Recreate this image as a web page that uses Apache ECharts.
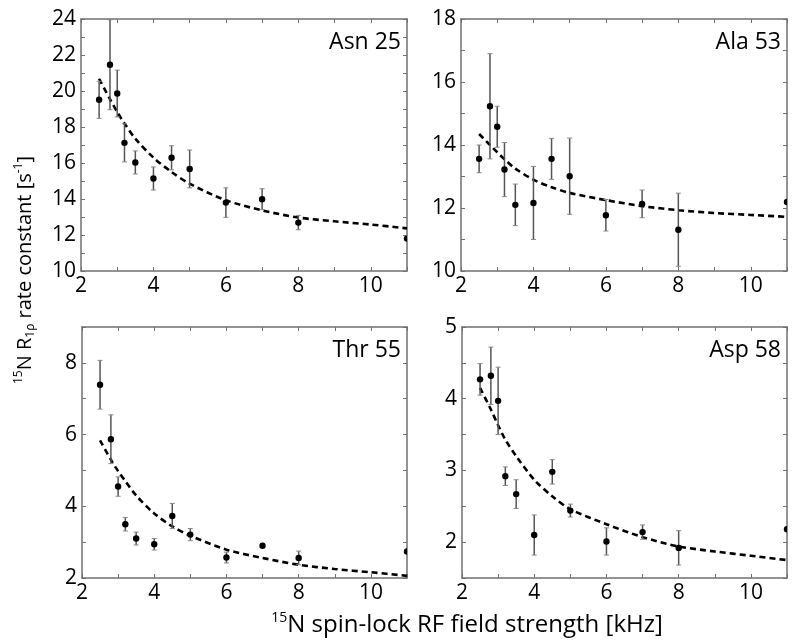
<!DOCTYPE html>
<html>
<head>
<meta charset="utf-8">
<script src="https://cdn.jsdelivr.net/npm/echarts@6/dist/echarts.min.js"></script>
<style>
html,body{margin:0;padding:0;background:#fff;}
#chart{width:800px;height:641px;}
</style>
</head>
<body>
<div id="chart"></div>
<script>
// ---- data ----
const fieldKHz = [2.5, 2.8, 3.0, 3.2, 3.5, 4.0, 4.5, 5.0, 6.0, 7.0, 8.0, 11.0];

const asn25R = [19.51, 21.46, 19.86, 17.12, 16.03, 15.14, 16.29, 15.67, 13.80, 13.99, 12.69, 11.80];
const asn25Err = [1.03, 2.5, 1.3, 1.06, 0.64, 0.64, 0.67, 1.05, 0.82, 0.58, 0.40, 0];

const ala53R = [13.56, 15.23, 14.58, 13.22, 12.10, 12.16, 13.56, 13.01, 11.77, 12.13, 11.31, 12.19];
const ala53Err = [0.44, 1.67, 0.65, 0.86, 0.66, 1.16, 0.65, 1.21, 0.50, 0.44, 1.16, 0];

const thr55R = [7.39, 5.87, 4.55, 3.50, 3.10, 2.94, 3.73, 3.21, 2.57, 2.90, 2.56, 2.74];
const thr55Err = [0.68, 0.68, 0.27, 0.19, 0.18, 0.16, 0.35, 0.17, 0.15, 0, 0.19, 0];

const asp58R = [4.27, 4.32, 3.97, 2.92, 2.67, 2.10, 2.98, 2.44, 2.01, 2.14, 1.92, 2.18];
const asp58Err = [0.22, 0.40, 0.47, 0.13, 0.20, 0.28, 0.17, 0.09, 0.19, 0.10, 0.24, 0];

// fitted curves
const fitX = [2.5, 2.8, 3.0, 3.2, 3.5, 4.0, 4.5, 5.0, 6.0, 7.0, 8.0, 9.0, 10.0, 11.0];
const asn25Fit = [20.68, 19.55, 18.83, 18.20, 17.35, 16.30, 15.50, 14.85, 13.93, 13.37, 12.97, 12.76, 12.58, 12.37];
const ala53Fit = [14.35, 14.00, 13.77, 13.55, 13.25, 12.90, 12.66, 12.48, 12.25, 12.06, 11.93, 11.84, 11.78, 11.72];
const thr55Fit = [5.84, 5.30, 4.98, 4.70, 4.30, 3.80, 3.44, 3.18, 2.79, 2.56, 2.37, 2.25, 2.16, 2.06];
const asp58Fit = [4.15, 3.85, 3.63, 3.43, 3.20, 2.87, 2.64, 2.46, 2.25, 2.07, 1.94, 1.87, 1.81, 1.75];

const panelNames = ['Asn 25', 'Ala 53', 'Thr 55', 'Asp 58'];
const yMin = [10, 10, 2, 1.5];
const yMax = [24, 18, 9, 5];
const yStep = [1, 1, 1, 0.5];
const xMin = 2, xMax = 11, xStep = 1;

const xTitle = '15N spin-lock RF field strength [kHz]';
const yTitle = '15N R1\u03c1 rate constant [s-1]';

// ---- build ----
const FONT = '"Open Sans", "DejaVu Sans", sans-serif';
const rVals = [asn25R, ala53R, thr55R, asp58R];
const rErrs = [asn25Err, ala53Err, thr55Err, asp58Err];
const fits = [asn25Fit, ala53Fit, thr55Fit, asp58Fit];

const grids = [
  {left: 81, top: 19, width: 326, height: 252},
  {left: 461, top: 19, width: 326, height: 252},
  {left: 82, top: 327, width: 325, height: 251},
  {left: 462, top: 327, width: 325, height: 251}
];

const frameColor = '#707070';
const xAxes = [], yAxes = [], series = [];
grids.forEach((g, i) => {
  const base = {
    gridIndex: i, type: 'value', min: xMin, max: xMax, interval: xStep,
    axisLine: {show: true, onZero: false, lineStyle: {color: frameColor, width: 1.5}},
    axisTick: {show: true, inside: true, length: 4, lineStyle: {color: frameColor, width: 1}},
    splitLine: {show: false}
  };
  xAxes.push(Object.assign({}, base, {
    position: 'bottom',
    axisLabel: {show: true, color: '#000', fontSize: 21, fontFamily: FONT, margin: 5,
      formatter: v => (Math.abs(v % 2) < 1e-9 ? String(v) : '')}
  }));
  xAxes.push(Object.assign({}, base, {position: 'top', axisLabel: {show: false}}));
  const ybase = {
    gridIndex: i, type: 'value', min: yMin[i], max: yMax[i], interval: yStep[i],
    axisLine: {show: true, onZero: false, lineStyle: {color: frameColor, width: 1.5}},
    axisTick: {show: true, inside: true, length: 4, lineStyle: {color: frameColor, width: 1}},
    splitLine: {show: false}
  };
  yAxes.push(Object.assign({}, ybase, {
    position: 'left',
    axisLabel: {show: true, color: '#000', fontSize: 21, fontFamily: FONT, margin: 5,
      formatter: v => {
        if (i === 3) return Number.isInteger(v) ? String(v) : '';
        return Math.abs(v % 2) < 1e-9 ? String(v) : '';
      }}
  }));
  yAxes.push(Object.assign({}, ybase, {position: 'right', axisLabel: {show: false}}));

  // fit line
  series.push({
    type: 'line', xAxisIndex: 2 * i, yAxisIndex: 2 * i,
    data: fitX.map((x, k) => [x, fits[i][k]]),
    smooth: 0.3, showSymbol: false, symbol: 'none', clip: true,
    lineStyle: {color: '#000', width: 2.6, type: [6, 4]},
    z: 2, silent: true
  });
  // points + error bars
  series.push({
    type: 'custom', xAxisIndex: 2 * i, yAxisIndex: 2 * i, clip: true, z: 3,
    data: fieldKHz.map((x, k) => [x, rVals[i][k], rErrs[i][k]]),
    renderItem: (params, api) => {
      const x = api.value(0), y = api.value(1), e = api.value(2);
      const c = api.coord([x, y]);
      const children = [];
      if (e > 0) {
        const t = api.coord([x, y + e]);
        const b = api.coord([x, y - e]);
        const ls = {stroke: '#555', lineWidth: 1.5};
        children.push({type: 'line', shape: {x1: c[0], y1: t[1], x2: c[0], y2: b[1]}, style: ls});
        children.push({type: 'line', shape: {x1: c[0] - 2.5, y1: t[1], x2: c[0] + 2.5, y2: t[1]}, style: {stroke: '#888', lineWidth: 1}});
        children.push({type: 'line', shape: {x1: c[0] - 2.5, y1: b[1], x2: c[0] + 2.5, y2: b[1]}, style: {stroke: '#888', lineWidth: 1}});
      }
      children.push({type: 'circle', shape: {cx: c[0], cy: c[1], r: 3.2}, style: {fill: '#000'}});
      return {type: 'group', children};
    }
  });
});

const graphics = grids.map((g, i) => ({
  type: 'text', x: g.left + g.width - 6, y: g.top + 23,
  style: {text: panelNames[i], font: '23px ' + FONT, fill: '#000', align: 'right', verticalAlign: 'middle'}
}));

graphics.push({
  type: 'text', x: 467, y: 625,
  style: {
    text: '{sup|15}{n|' + xTitle.slice(2) + '}',
    align: 'center', verticalAlign: 'middle',
    rich: {
      n: {fontSize: 24, fontFamily: FONT, fill: '#000', lineHeight: 28},
      sup: {fontSize: 14, fontFamily: FONT, fill: '#000', lineHeight: 28, verticalAlign: 'top', padding: [0, 0, 10, 0]}
    }
  }
});

graphics.push({
  type: 'text', x: 25, y: 270, rotation: Math.PI / 2,
  style: {
    text: '{sup|15}{n|N R}{sub|1\u03c1}{n| rate constant [s}{sup|-1}{n|]}',
    align: 'center', verticalAlign: 'middle',
    rich: {
      n: {fontSize: 20, fontFamily: FONT, fill: '#000', lineHeight: 24},
      sup: {fontSize: 12, fontFamily: FONT, fill: '#000', lineHeight: 24, verticalAlign: 'top', padding: [0, 0, 8, 0]},
      sub: {fontSize: 12, fontFamily: FONT, fill: '#000', lineHeight: 24, verticalAlign: 'bottom', padding: [8, 0, 0, 0]}
    }
  }
});

const chart = echarts.init(document.getElementById('chart'), null, {renderer: 'canvas'});
chart.setOption({
  animation: false,
  backgroundColor: '#fff',
  grid: grids.map(g => Object.assign({containLabel: false}, g)),
  xAxis: xAxes,
  yAxis: yAxes,
  series: series,
  graphic: graphics
});
</script>
</body>
</html>
